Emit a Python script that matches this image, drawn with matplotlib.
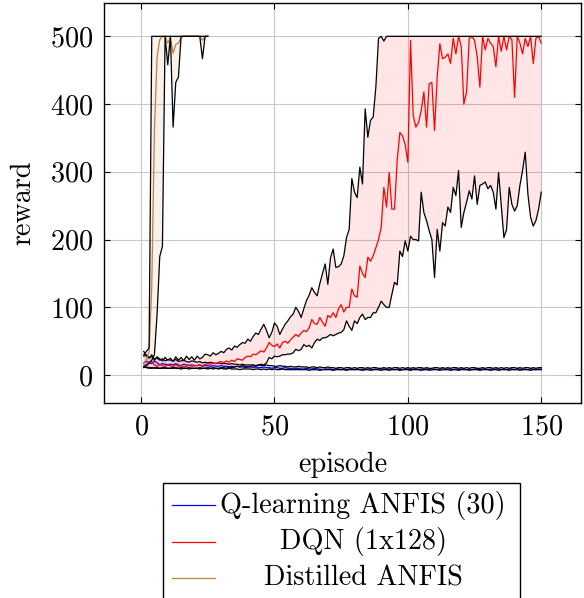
import matplotlib
matplotlib.use("Agg")
import matplotlib.pyplot as plt
from matplotlib.lines import Line2D
from matplotlib.patches import Rectangle
import numpy as np

plt.rcParams['font.family'] = ['cmr10', 'DejaVu Serif']
plt.rcParams['mathtext.fontset'] = 'cm'
plt.rcParams['axes.formatter.use_mathtext'] = True

# ---------------- data ----------------
episodes = list(range(1, 151))
episodes_distilled = list(range(1, 26))

q_mean = [18, 20, 19, 17, 21, 18, 15, 17, 16, 15,
          16, 15, 17, 15, 14, 16, 15, 14, 15, 14,
          14, 15, 13, 14, 14, 13, 14, 13, 13, 14,
          13, 13, 12, 13, 12, 13, 12, 12, 11, 12,
          12, 11, 12, 11, 11, 12, 11, 11, 10, 11,
          11, 10, 10, 11, 10, 10, 9, 10, 10, 9,
          9, 10, 9, 9, 10, 9, 9, 8, 9, 9,
          9, 8, 9, 9, 8, 9, 8, 9, 9, 8,
          9, 8, 9, 8, 9, 9, 8, 9, 8, 9,
          9, 8, 9, 9, 8, 9, 8, 8, 9, 9,
          8, 9, 9, 8, 9, 8, 9, 9, 8, 9,
          8, 9, 9, 8, 9, 9, 8, 9, 8, 9,
          9, 8, 9, 8, 9, 9, 8, 9, 9, 8,
          9, 8, 9, 9, 8, 9, 8, 9, 9, 8,
          9, 9, 8, 9, 8, 9, 9, 8, 9, 9]
q_upper = [28, 30, 26, 27, 24, 25, 22, 24, 21, 23,
           22, 21, 23, 20, 21, 22, 20, 19, 21, 20,
           19, 20, 18, 19, 18, 19, 18, 17, 18, 17,
           17, 17, 16, 17, 16, 16, 15, 16, 15, 15,
           15, 15, 14, 15, 14, 14, 15, 14, 14, 13,
           13, 14, 13, 13, 12, 13, 12, 12, 13, 12,
           12, 12, 11, 12, 12, 11, 12, 11, 11, 12,
           11, 11, 10, 11, 11, 10, 11, 11, 10, 11,
           10, 11, 11, 10, 11, 10, 11, 11, 10, 10,
           11, 10, 11, 10, 11, 11, 10, 11, 10, 11,
           10, 11, 10, 11, 11, 10, 11, 10, 10, 11,
           11, 10, 11, 10, 11, 10, 11, 11, 10, 11,
           10, 11, 10, 11, 11, 10, 10, 11, 10, 11,
           11, 10, 11, 10, 11, 10, 11, 10, 11, 11,
           10, 11, 10, 11, 11, 10, 11, 10, 11, 11]
q_lower = [11, 12, 11, 10, 11, 10, 10, 11, 10, 10,
           10, 10, 11, 10, 9, 10, 10, 9, 10, 10,
           10, 9, 10, 10, 9, 10, 9, 10, 9, 10,
           9, 9, 10, 9, 9, 9, 8, 9, 9, 9,
           9, 8, 9, 9, 8, 9, 8, 9, 8, 9,
           8, 8, 9, 8, 8, 8, 8, 8, 8, 8,
           8, 8, 7, 8, 8, 8, 7, 8, 8, 8,
           8, 7, 8, 8, 8, 8, 7, 8, 8, 8,
           8, 8, 7, 8, 8, 7, 8, 8, 8, 7,
           8, 8, 7, 8, 8, 8, 7, 8, 8, 8,
           7, 8, 8, 8, 7, 8, 8, 7, 8, 8,
           8, 7, 8, 8, 8, 7, 8, 8, 7, 8,
           8, 8, 7, 8, 8, 8, 7, 8, 8, 8,
           7, 8, 8, 7, 8, 8, 8, 7, 8, 8,
           8, 7, 8, 8, 8, 7, 8, 8, 8, 8]

dqn_mean = [15, 14, 17, 20, 15, 13, 16, 14, 13, 15,
            14, 12, 16, 13, 14, 12, 13, 15, 13, 14,
            14, 15, 13, 16, 17, 16, 18, 17, 19, 20,
            18, 21, 19, 22, 20, 24, 23, 22, 26, 28,
            27, 31, 30, 33, 36, 34, 40, 48, 44, 42,
            46, 40, 48, 50, 47, 52, 56, 60, 57, 62,
            66, 64, 70, 82, 76, 75, 85, 78, 72, 88,
            85, 92, 85, 98, 104, 93, 100, 100, 127, 117,
            115, 161, 150, 144, 174, 168, 176, 188, 200, 218,
            277, 248, 299, 245, 245, 317, 358, 353, 340, 314,
            494, 383, 366, 373, 390, 418, 366, 430, 432, 361,
            440, 489, 467, 469, 474, 460, 497, 474, 500, 485,
            400, 418, 497, 500, 494, 470, 425, 500, 480, 497,
            490, 485, 455, 500, 478, 500, 480, 500, 495, 410,
            500, 490, 474, 497, 485, 500, 460, 497, 500, 490]
dqn_upper = [35, 28, 25, 30, 22, 27, 24, 21, 26, 22,
             25, 20, 27, 22, 26, 21, 28, 23, 27, 22,
             28, 24, 26, 31, 30, 28, 33, 30, 32, 35,
             33, 38, 40, 37, 43, 41, 45, 48, 47, 53,
             50, 57, 62, 60, 68, 75, 66, 55, 63, 77,
             72, 60, 68, 75, 80, 86, 90, 100, 94, 85,
             98, 110, 118, 129, 122, 117, 135, 150, 164, 134,
             173, 186, 159, 160, 164, 176, 203, 215, 290, 270,
             262, 307, 282, 393, 351, 376, 381, 425, 497, 500,
             493, 500, 500, 500, 500, 500, 500, 500, 500, 500,
             500, 500, 500, 500, 500, 500, 500, 500, 500, 500,
             500, 500, 500, 500, 500, 500, 500, 500, 500, 500,
             500, 500, 500, 500, 500, 500, 500, 500, 500, 500,
             500, 500, 500, 500, 500, 500, 500, 500, 500, 500,
             500, 500, 500, 500, 500, 500, 500, 500, 500, 500]
dqn_lower = [12, 11, 10, 11, 10, 11, 10, 10, 11, 10,
             10, 11, 10, 10, 11, 10, 10, 11, 10, 10,
             10, 11, 10, 10, 11, 10, 11, 10, 10, 11,
             11, 10, 12, 11, 12, 13, 12, 14, 13, 12,
             13, 14, 13, 15, 16, 15, 18, 26, 24, 28,
             27, 28, 30, 30, 31, 31, 33, 38, 36, 38,
             45, 42, 44, 40, 48, 53, 51, 55, 55, 57,
             60, 58, 60, 62, 63, 67, 80, 72, 66, 80,
             76, 85, 90, 82, 85, 85, 92, 92, 100, 109,
             104, 100, 100, 119, 137, 133, 183, 175, 198, 183,
             205, 200, 200, 198, 270, 240, 228, 213, 200, 144,
             215, 183, 225, 220, 248, 240, 277, 265, 302, 218,
             240, 255, 272, 260, 294, 252, 280, 282, 285, 275,
             280, 270, 245, 299, 250, 203, 215, 277, 252, 242,
             250, 280, 302, 329, 267, 233, 220, 228, 245, 270]

dist_mean = [18, 22, 35, 130, 360, 470, 495, 500, 500, 490,
             498, 475, 488, 490, 498, 500, 500, 500, 500, 500,
             500, 500, 494, 500, 500]
dist_upper = [30, 35, 40, 500, 500, 500, 500, 500, 500, 500,
              500, 500, 500, 500, 500, 500, 500, 500, 500, 500,
              500, 500, 500, 500, 500]
dist_lower = [12, 15, 18, 22, 30, 90, 175, 190, 500, 458,
              500, 366, 432, 440, 500, 500, 500, 500, 500, 500,
              500, 500, 467, 500, 500]

labels = ["Q-learning ANFIS (30)", "DQN (1x128)", "Distilled ANFIS"]
colors = ["#0000ff", "#ff0000", "#bf8040"]

# ---------------- figure ----------------
W, H = 584, 598
fig = plt.figure(figsize=(W / 100, H / 100), dpi=100)
ax_l, ax_r, ax_t, ax_b = 104, 581, 3, 403
ax = fig.add_axes([ax_l / W, 1 - ax_b / H, (ax_r - ax_l) / W, (ax_b - ax_t) / H])

fs = 20.3
lw_b = 0.9

series = [
    (episodes, q_mean, q_lower, q_upper, colors[0]),
    (episodes, dqn_mean, dqn_lower, dqn_upper, colors[1]),
    (episodes_distilled, dist_mean, dist_lower, dist_upper, colors[2]),
]
z = 2
for x, m, lo, up, c in series:
    ax.fill_between(x, lo, up, color=c, alpha=0.1, linewidth=0, zorder=z)
    ax.plot(x, m, color=c, lw=0.9, zorder=z + 0.1)
    ax.plot(x, up, color="black", lw=lw_b, zorder=z + 0.2)
    ax.plot(x, lo, color="black", lw=lw_b, zorder=z + 0.2)
    z += 1

ax.set_xlim(-13.9, 164.9)
ax.set_ylim(-41.2, 549.2)
ax.set_xticks([0, 50, 100, 150])
ax.set_yticks([0, 100, 200, 300, 400, 500])
ax.grid(True, color="#c8c8c8", lw=0.8, zorder=0)
ax.set_axisbelow(True)
ax.tick_params(direction="in", top=True, right=True, length=4, width=0.8,
               labelsize=fs, pad=8)
for s in ax.spines.values():
    s.set_linewidth(1.0)
ax.set_xlabel("episode", fontsize=fs, labelpad=8)
ax.set_ylabel("reward", fontsize=fs, labelpad=10)

# ---------------- legend (centered text, as pgfplots) ----------------
lx0, lx1, ly0 = 163, 520, 483
fig.patches.append(Rectangle((lx0 / W, -0.05), (lx1 - lx0) / W, 1 - ly0 / H + 0.05,
                             transform=fig.transFigure, facecolor="white",
                             edgecolor="black", lw=1.0, zorder=5))
rows_y = [505, 542, 578]
for lab, c, yy in zip(labels, colors, rows_y):
    fig.lines.append(Line2D([172 / W, 215 / W], [1 - yy / H, 1 - yy / H],
                            transform=fig.transFigure, color=c, lw=0.9, zorder=6))
    fig.text(363 / W, 1 - yy / H, lab, ha="center", va="center", fontsize=fs, zorder=6)

fig.savefig("out.png", dpi=100)
